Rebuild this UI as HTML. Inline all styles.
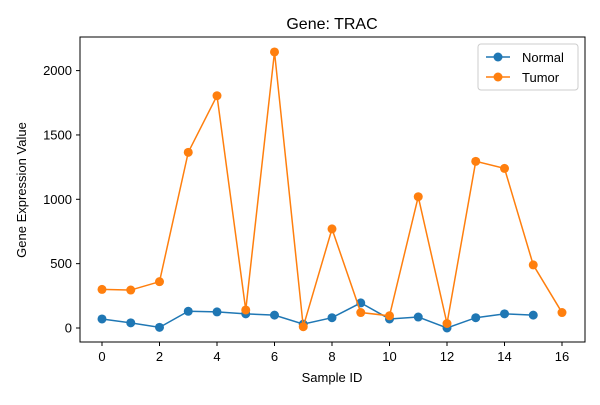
<!DOCTYPE html>
<html><head><meta charset="utf-8"><style>
body{margin:0;background:#fff;font-family:"Liberation Sans","DejaVu Sans",sans-serif}
</style></head><body>
<svg id="chart" width="600" height="400" xmlns="http://www.w3.org/2000/svg">
<rect width="600" height="400" fill="#fff"/>
<text x="332" y="29" font-size="16" text-anchor="middle">Gene: TRAC</text>
<g id="axes"></g>
<g id="series"></g>
<rect x="80" y="37" width="505" height="305" fill="none" stroke="#000" stroke-width="1"/>
<text x="332" y="382" font-size="13" text-anchor="middle">Sample ID</text>
<text x="26" y="190" font-size="13" text-anchor="middle" transform="rotate(-90 26 190)">Gene Expression Value</text>
<g>
<rect x="478" y="44" width="100" height="46" rx="3" fill="#fff" stroke="#ccc"/>
<g>
<line x1="486" y1="57" x2="510" y2="57" stroke="#1f77b4" stroke-width="1.5"/><circle cx="498" cy="57" r="4.5" fill="#1f77b4"/>
<text x="522" y="62" font-size="13">Normal</text></g>
<g>
<line x1="486" y1="77" x2="510" y2="77" stroke="#ff7f0e" stroke-width="1.5"/><circle cx="498" cy="77" r="4.5" fill="#ff7f0e"/>
<text x="522" y="82" font-size="13">Tumor</text></g>
</g>
</svg>
<script>
const xTicks=[0,2,4,6,8,10,12,14,16];
const yTicks=[0,500,1000,1500,2000];
const normalValues=[70,40,5,130,125,110,100,30,80,195,70,85,0,80,110,100];
const tumorValues=[300,295,360,1365,1805,140,2145,10,770,120,95,1020,35,1295,1240,490,120];
const NS="http://www.w3.org/2000/svg";
function xs(v){return 102+v*28.75;}
function ys(v){return 328-v*0.1287;}
const axes=document.getElementById('axes');
function mk(t,a,p){const e=document.createElementNS(NS,t);for(const k in a)e.setAttribute(k,a[k]);p.appendChild(e);return e;}
xTicks.forEach(v=>{
 const g=mk('g',{},axes);
 
 
 mk('line',{x1:xs(v),x2:xs(v),y1:342,y2:346,stroke:'#000'},g);
 const t=mk('text',{x:xs(v),y:361,'font-size':13,'text-anchor':'middle'},g);t.textContent=v;
});
yTicks.forEach(v=>{
 const g=mk('g',{},axes);
 
 
 mk('line',{x1:76,x2:80,y1:ys(v),y2:ys(v),stroke:'#000'},g);
 const t=mk('text',{x:72,y:ys(v)+4.5,'font-size':13,'text-anchor':'end'},g);t.textContent=v;
});
const ser=document.getElementById('series');
function draw(vals,color,name){
 const g=mk('g',{},ser);
 
 
 const pl=mk('polyline',{points:vals.map((v,i)=>xs(i)+','+ys(v)).join(' '),fill:'none',stroke:color,'stroke-width':1.5},g);
 
 
 vals.forEach((v,i)=>{
  const c=mk('circle',{cx:xs(i),cy:ys(v),r:4.5,fill:color},g);
  
  
 });
}
draw(normalValues,'#1f77b4','normal');
draw(tumorValues,'#ff7f0e','tumor');
</script>
</body></html>
